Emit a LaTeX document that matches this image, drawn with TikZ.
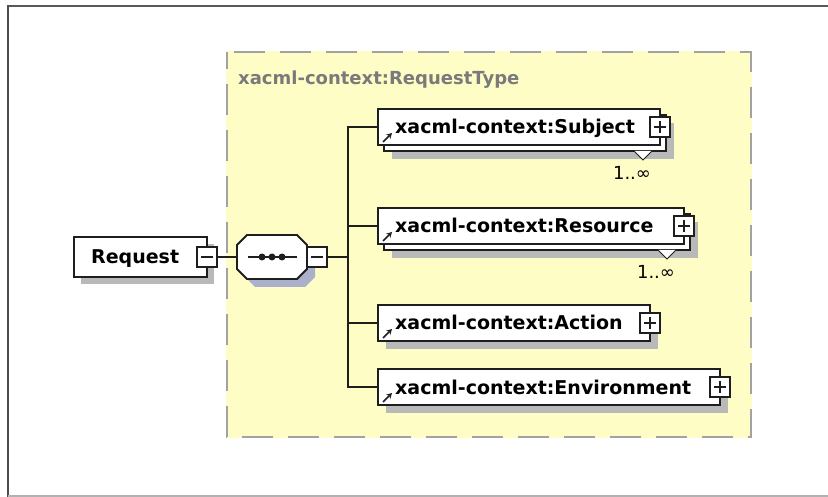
\documentclass[tikz,border=0pt]{standalone}
\usepackage{fontspec}
\setmainfont{DejaVu Sans}
\usetikzlibrary{arrows.meta,calc}
\definecolor{yel}{HTML}{FFFDC6}
\definecolor{dashc}{HTML}{A2A2A2}
\definecolor{titlec}{HTML}{7A7A7A}
\definecolor{boxline}{HTML}{1E1E1E}
\definecolor{shadowc}{HTML}{B9B9B9}
\definecolor{seqshadow}{HTML}{ABB1CB}
\tikzset{
  ebox/.style={draw=boxline, line width=1.8pt, fill=white, rectangle, inner sep=0pt, outer sep=0pt, anchor=north west},
  sbox/.style={fill=shadowc, draw=none, rectangle, inner sep=0pt, outer sep=0pt, anchor=north west},
  pm/.style={draw=boxline, line width=1.3pt, fill=white, rectangle, minimum size=20pt, inner sep=0pt, outer sep=0pt},
  lbl/.style={font=\fontsize{19}{22}\selectfont\bfseries, text=black, inner sep=0pt, anchor=base west},
  mult/.style={font=\fontsize{18}{21}\selectfont, text=black, inner sep=0pt},
  conn/.style={draw=boxline, line width=1.6pt},
  refarrow/.style={draw=boxline, line width=1.6pt, -{Stealth[length=5.5pt,width=6pt]}},
  notch/.style={draw=boxline, line width=1pt, fill=white, line join=miter},
}
\begin{document}
\begin{tikzpicture}[x=1pt,y=-1pt]
\useasboundingbox (0,0) rectangle (828,497);
% outer frame
\draw[draw=black!65, line width=2pt] (8,6) -- (828,6);
\draw[draw=black!70, line width=2.5pt] (8,5) -- (8,497);
\draw[draw=black!30, line width=1.5pt] (8,496) -- (828,496);
% complex type area
\fill[yel] (226,51) rectangle (752,438);
\draw[dashc, line width=2.2pt, dash pattern=on 31pt off 15pt, dash phase=-7pt] (227,52) -- (751,52) -- (751,437) -- (227,437) -- cycle;
\node[font=\fontsize{18}{21}\selectfont\bfseries, text=titlec, inner sep=0pt, anchor=base west] (title) at (238,85) {xacml-context:RequestType};

% Request element
\node[sbox, minimum width=133pt, minimum height=40pt] (reqS) at (81,244) {};
\node[ebox, minimum width=133pt, minimum height=40pt] (req) at (74,237) {};
\node[lbl] (reqT) at ([xshift=17pt,yshift=-7pt]req.west) {Request};
\node[pm] (reqm) at (req.east) {};
\draw[boxline, line width=1.3pt] ([xshift=4pt]reqm.west) -- ([xshift=-4pt]reqm.east);

% sequence compositor
\node[minimum width=70pt, minimum height=44pt, inner sep=0pt, outer sep=0pt] (seq) at (272,257) {};
\fill[seqshadow] (255,243) -- (305,243) -- (315,253) -- (315,277) -- (305,287) -- (255,287) -- (245,277) -- (245,253) -- cycle;
\draw[boxline, line width=1.8pt, fill=white] (247,235) -- (297,235) -- (307,245) -- (307,269) -- (297,279) -- (247,279) -- (237,269) -- (237,245) -- cycle;
\draw[boxline, line width=1.6pt] (248,257) -- (297,257);
\foreach \dx in {262,272,282} \fill[boxline] (\dx,257) circle (3.5pt);
\node[pm, anchor=west] (seqm) at (seq.east) {};
\draw[boxline, line width=1.3pt] ([xshift=4pt]seqm.west) -- ([xshift=-4pt]seqm.east);

% Subject (stacked, 1..inf)
\node[sbox, minimum width=282pt, minimum height=36pt] (subjS) at (392,123) {};
\node[ebox, minimum width=282pt, minimum height=36pt] (subjB) at (384,115) {};
\draw[notch] (634,151) -- (643,160) -- (652,151);
\node[ebox, minimum width=282pt, minimum height=36pt] (subj) at (378,109) {};
\draw[refarrow] ([xshift=5pt,yshift=3pt]subj.south west) -- ([xshift=14pt,yshift=12pt]subj.south west);
\node[lbl] (subjT) at ([xshift=17pt,yshift=-7pt]subj.west) {xacml-context:Subject};
\node[pm] (subjp) at (subj.east) {};
\draw[boxline, line width=1.3pt] ([xshift=4pt]subjp.west) -- ([xshift=-4pt]subjp.east);
\draw[boxline, line width=1.3pt] ([yshift=-4pt]subjp.north) -- ([yshift=4pt]subjp.south);
\node[mult] (subjM) at (632,173) {1..∞};

% Resource (stacked, 1..inf)
\node[sbox, minimum width=306pt, minimum height=36pt] (resS) at (392,222) {};
\node[ebox, minimum width=306pt, minimum height=36pt] (resB) at (384,214) {};
\draw[notch] (658,250) -- (667,259) -- (676,250);
\node[ebox, minimum width=306pt, minimum height=36pt] (res) at (378,208) {};
\draw[refarrow] ([xshift=5pt,yshift=3pt]res.south west) -- ([xshift=14pt,yshift=12pt]res.south west);
\node[lbl] (resT) at ([xshift=17pt,yshift=-7pt]res.west) {xacml-context:Resource};
\node[pm] (resp) at (res.east) {};
\draw[boxline, line width=1.3pt] ([xshift=4pt]resp.west) -- ([xshift=-4pt]resp.east);
\draw[boxline, line width=1.3pt] ([yshift=-4pt]resp.north) -- ([yshift=4pt]resp.south);
\node[mult] (resM) at (656,272) {1..∞};

% Action
\node[sbox, minimum width=272pt, minimum height=36pt] (actS) at (386,313) {};
\node[ebox, minimum width=272pt, minimum height=36pt] (act) at (378,305) {};
\draw[refarrow] ([xshift=5pt,yshift=3pt]act.south west) -- ([xshift=14pt,yshift=12pt]act.south west);
\node[lbl] (actT) at ([xshift=17pt,yshift=-7pt]act.west) {xacml-context:Action};
\node[pm] (actp) at (act.east) {};
\draw[boxline, line width=1.3pt] ([xshift=4pt]actp.west) -- ([xshift=-4pt]actp.east);
\draw[boxline, line width=1.3pt] ([yshift=-4pt]actp.north) -- ([yshift=4pt]actp.south);

% Environment
\node[sbox, minimum width=342pt, minimum height=36pt] (envS) at (386,377) {};
\node[ebox, minimum width=342pt, minimum height=36pt] (env) at (378,369) {};
\draw[refarrow] ([xshift=5pt,yshift=3pt]env.south west) -- ([xshift=14pt,yshift=12pt]env.south west);
\node[lbl] (envT) at ([xshift=17pt,yshift=-7pt]env.west) {xacml-context:Environment};
\node[pm] (envp) at (env.east) {};
\draw[boxline, line width=1.3pt] ([xshift=4pt]envp.west) -- ([xshift=-4pt]envp.east);
\draw[boxline, line width=1.3pt] ([yshift=-4pt]envp.north) -- ([yshift=4pt]envp.south);

% connectors
\coordinate (bus) at (348,257);
\draw[conn] (reqm.east) -- (seq.west);
\draw[conn] (seqm.east) -- (bus);
\draw[conn] (subj.west) -- (subj.west -| bus) -- (env.west -| bus) -- (env.west);
\draw[conn] (res.west) -- (res.west -| bus);
\draw[conn] (act.west) -- (act.west -| bus);
\end{tikzpicture}
\end{document}
